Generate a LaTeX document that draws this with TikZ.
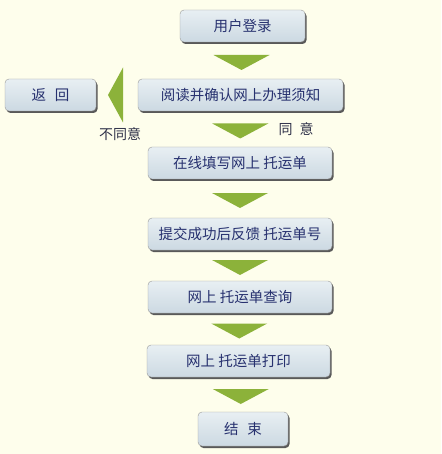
\documentclass[tikz,border=0pt]{standalone}
\usepackage{fontspec}
\usepackage{xcolor}
\usepackage{tikz}
\usetikzlibrary{calc,shadows}
\newfontfamily\cjk{Noto Sans CJK SC}
\definecolor{bgcream}{HTML}{FEFEEC}
\definecolor{boxtop}{HTML}{E8EFF3}
\definecolor{boxbot}{HTML}{CCD9E2}
\definecolor{arrowgreen}{HTML}{8CB23A}
\definecolor{textnavy}{HTML}{27316F}
\definecolor{notegray}{HTML}{2E3048}
% green triangle between two boxes, pointing down
\newcommand\flowtri[2]{\fill[arrowgreen] ($(#1.south)!0.5!(#2.north)+(0,2)$) +(-28,-7.5) -- +(28,-7.5) -- +(0,7.5) -- cycle;}

\begin{document}
\begin{tikzpicture}[x=1pt,y=-1pt,
  stepbox/.style={draw=black!40,line width=0.4pt,rounded corners=4pt,
    top color=boxtop,bottom color=boxbot,minimum height=32pt,inner sep=0pt,
    font=\cjk\fontsize{14.5}{16}\selectfont,text=textnavy,
    drop shadow={shadow xshift=1.5pt,shadow yshift=-2pt,fill=black!65,opacity=1}},
  note/.style={font=\cjk\fontsize{14}{16}\selectfont,text=notegray,inner sep=0pt}]
  \fill[bgcream] (0,0) rectangle (441,454);
  \useasboundingbox (0,0) rectangle (441,454);

  \node[stepbox,minimum width=125pt] (login) at (242.5,26) {用户登录};
  \node[stepbox,minimum width=205pt] (read) at (240.5,95) {阅读并确认网上办理须知};
  \node[stepbox,minimum width=91pt] (back) at (50.5,95) {返\hspace{0.6em}回};
  \node[stepbox,minimum width=184pt] (fill) at (240,163) {在线填写网上 托运单};
  \node[stepbox,minimum width=184pt] (submit) at (240,234) {提交成功后反馈 托运单号};
  \node[stepbox,minimum width=184pt] (query) at (240,297) {网上 托运单查询};
  \node[stepbox,minimum width=183pt] (print) at (238.5,361) {网上 托运单打印};
  \node[stepbox,minimum width=90pt,minimum height=34pt] (finish) at (243,429) {结\hspace{0.6em}束};

  \node[note] (disagree) at (120,134) {不同意};
  \node[note] (agree) at (296,129) {同\hspace{0.5em}意};

  \flowtri{login}{read}
  \flowtri{read}{fill}
  \flowtri{fill}{submit}
  \flowtri{submit}{query}
  \flowtri{query}{print}
  \flowtri{print}{finish}
  % back to the start, pointing left
  \fill[arrowgreen] ($(back.east)!0.5!(read.west)+(-1.5,0)$) +(7.5,-27.5) -- +(7.5,27.5) -- +(-7.5,0) -- cycle;
\end{tikzpicture}
\end{document}
